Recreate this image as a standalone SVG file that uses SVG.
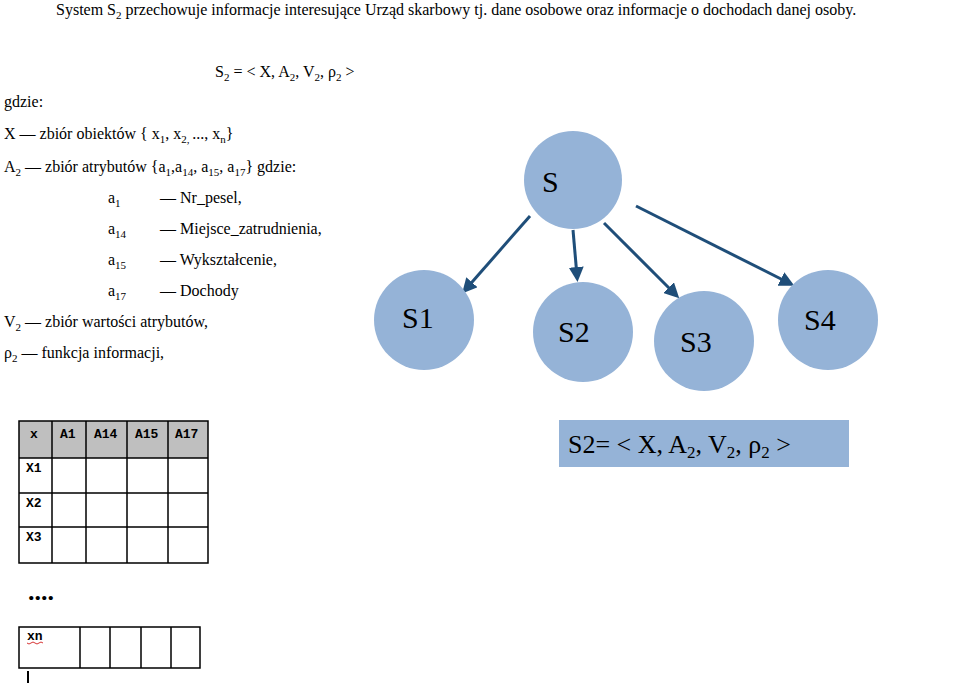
<svg xmlns="http://www.w3.org/2000/svg" width="960" height="685" viewBox="0 0 960 685">
<style>
text{font-family:"Liberation Serif",serif;fill:#000}
.t{font-size:16px}
.c{fill:#95B3D7}
.n{font-size:30px}
.g{fill:none;stroke:#000;stroke-width:1.5}
.h{font-family:"Liberation Mono",monospace;font-size:13px;font-weight:bold}
.e{stroke:#1F4E79;stroke-width:3;fill:none;marker-end:url(#a)}
</style>
<defs><marker id="a" markerWidth="5" markerHeight="5" refX="3" refY="2.5" orient="auto"><path d="M0,0L5,2.5L0,5z" fill="#1F4E79"/></marker></defs>
<rect width="960" height="685" fill="#fff"/>
<text class="t" x="56" y="15">System S<tspan font-size="11" dy="4">2</tspan><tspan dy="-4"> przechowuje informacje interesujące Urząd skarbowy tj. dane osobowe oraz informacje o dochodach danej osoby.</tspan></text>
<text class="t" x="215" y="77">S<tspan font-size="11" dy="4">2</tspan><tspan dy="-4"> = &lt; X, A</tspan><tspan font-size="11" dy="4">2</tspan><tspan dy="-4">, V</tspan><tspan font-size="11" dy="4">2</tspan><tspan dy="-4">, ρ</tspan><tspan font-size="11" dy="4">2</tspan><tspan dy="-4"> &gt;</tspan></text>
<text class="t" x="4" y="107">gdzie:</text>
<text class="t" x="4" y="139">X — zbiór obiektów { x<tspan font-size="11" dy="4">1</tspan><tspan dy="-4">, x</tspan><tspan font-size="11" dy="4">2, </tspan><tspan dy="-4">..., x</tspan><tspan font-size="11" dy="4">n</tspan><tspan dy="-4">}</tspan></text>
<text class="t" x="4" y="172">A<tspan font-size="11" dy="4">2</tspan><tspan dy="-4"> — zbiór atrybutów {a</tspan><tspan font-size="11" dy="4">1</tspan><tspan dy="-4">,a</tspan><tspan font-size="11" dy="4">14</tspan><tspan dy="-4">, a</tspan><tspan font-size="11" dy="4">15</tspan><tspan dy="-4">, a</tspan><tspan font-size="11" dy="4">17</tspan><tspan dy="-4">} gdzie:</tspan></text>
<text class="t" x="108" y="203">a<tspan font-size="11" dy="4">1</tspan></text><text class="t" x="160" y="203">— Nr_pesel,</text>
<text class="t" x="108" y="234">a<tspan font-size="11" dy="4">14</tspan></text><text class="t" x="160" y="234">— Miejsce_zatrudnienia,</text>
<text class="t" x="108" y="265">a<tspan font-size="11" dy="4">15</tspan></text><text class="t" x="160" y="265">— Wykształcenie,</text>
<text class="t" x="108" y="296">a<tspan font-size="11" dy="4">17</tspan></text><text class="t" x="160" y="296">— Dochody</text>
<text class="t" x="4" y="327">V<tspan font-size="11" dy="4">2</tspan><tspan dy="-4"> — zbiór wartości atrybutów,</tspan></text>
<text class="t" x="4" y="358">ρ<tspan font-size="11" dy="4">2</tspan><tspan dy="-4"> — funkcja informacji,</tspan></text>
<g id="edges">
<line class="e" x1="530" y1="216" x2="466" y2="289"/>
<line class="e" x1="573" y1="230" x2="577" y2="276"/>
<line class="e" x1="604" y1="223" x2="675" y2="294"/>
<line class="e" x1="636" y1="206" x2="789" y2="283"/>
</g>
<g id="S"><circle class="c" cx="573" cy="180" r="49"/><text class="n" x="542" y="192">S</text></g>
<g id="S1"><circle class="c" cx="424" cy="320" r="50"/><text class="n" x="402" y="328">S1</text></g>
<g id="S2"><circle class="c" cx="583" cy="332" r="50"/><text class="n" x="558" y="342">S2</text></g>
<g id="S3"><circle class="c" cx="704" cy="341" r="50"/><text class="n" x="680" y="352">S3</text></g>
<g id="S4"><circle class="c" cx="828" cy="320" r="50"/><text class="n" x="804" y="330">S4</text></g>
<g id="table">
<rect x="19" y="421" width="189" height="37" fill="#BFBFBF"/>
<path class="g" d="M19,421H208V563H19Z M52,421V563 M86,421V563 M127,421V563 M168,421V563 M19,458H208 M19,493H208 M19,527H208"/>
<text class="h" x="30" y="438">x</text><text class="h" x="60" y="438">A1</text><text class="h" x="94" y="438">A14</text><text class="h" x="135" y="438">A15</text><text class="h" x="175" y="438">A17</text>
<text class="h" x="26" y="472">X1</text><text class="h" x="26" y="507">X2</text><text class="h" x="26" y="541">X3</text>
<text x="28" y="600" font-size="26" font-weight="bold" font-family="Liberation Sans,sans-serif">....</text>
<path class="g" d="M19,627H200V668H19Z M80,627V668 M110,627V668 M141,627V668 M171,627V668"/>
<text class="h" x="27" y="640" font-weight="normal">xn</text>
<path d="M27,643q2,2 4,0t4,0t4,0t4,0" stroke="#c00" fill="none" stroke-width="0.8"/>
<line x1="28" y1="671" x2="28" y2="683" stroke="#000" stroke-width="2"/>
</g>
<g id="formula"><rect x="559" y="420" width="290" height="47" fill="#95B3D7"/>
<text x="568" y="453" font-size="26">S2= &lt; X, A<tspan font-size="17" dy="5">2</tspan><tspan dy="-5">, V</tspan><tspan font-size="17" dy="5">2</tspan><tspan dy="-5">, ρ</tspan><tspan font-size="17" dy="5">2</tspan><tspan dy="-5"> &gt;</tspan></text></g>
</svg>
